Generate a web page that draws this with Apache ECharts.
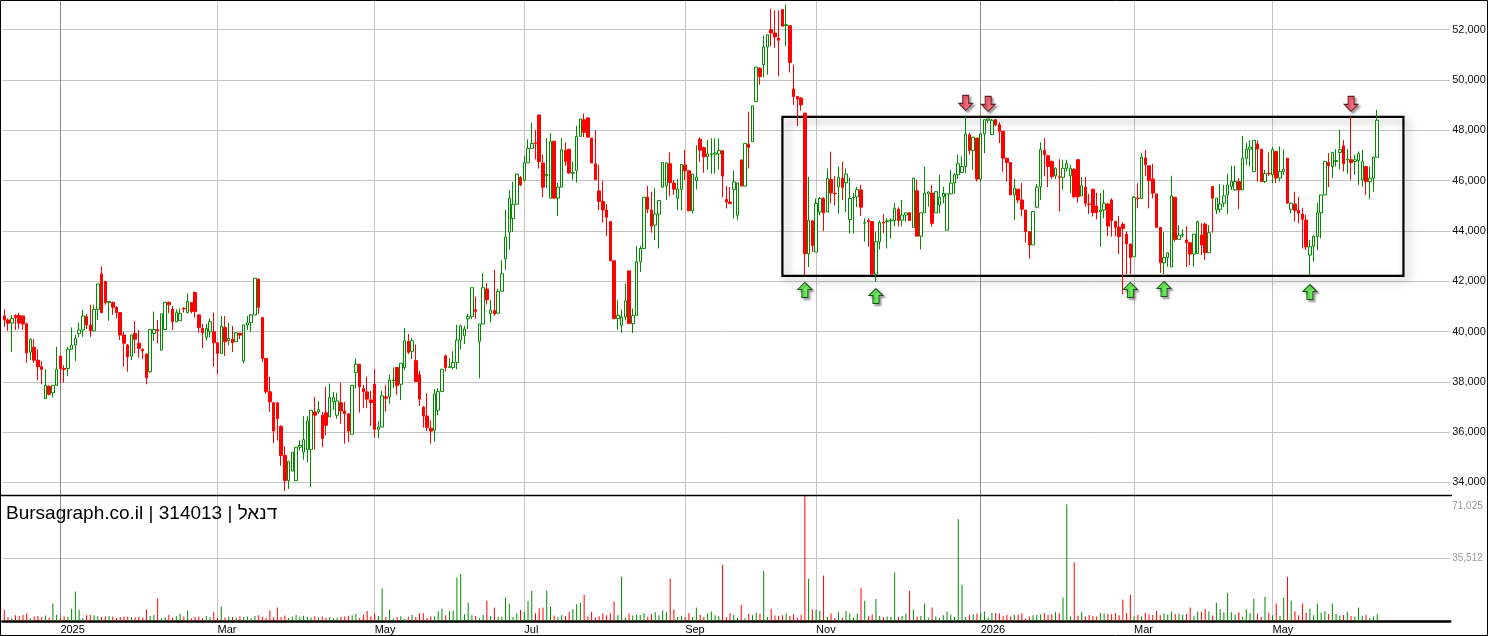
<!DOCTYPE html>
<html lang="en">
<head>
    <meta charset="UTF-8">
    <title>314013</title>
    <style>
        html, body { margin: 0; padding: 0; background: #fff; }
        #main { width: 1488px; height: 636px; }
    </style>
</head>
<body>
<div id="main"></div>
<script src="https://cdn.jsdelivr.net/npm/echarts@6.0.0/dist/echarts.min.js"></script>
<script>
    // daily candles: [open, high, low, close]
    var ohlc = [
        [40620,40880,40190,40460],[40460,40520,40030,40330],[40330,40660,39190,40520],[40640,40680,40060,40550],[40640,40750,40100,40330],
        [40620,40620,40060,40300],[40300,40350,38750,39150],[39180,39730,38860,39690],[39370,39690,38750,38860],[38860,39290,38060,38600],
        [38600,38820,37900,38490],[37330,38500,37330,37860],[37820,37860,37460,37500],[37560,37860,37370,37860],[37860,39390,37860,38500],
        [39020,39050,37960,38530],[38530,38660,37960,38490],[38530,39390,38220,39290],[39290,40160,39290,39460],[39460,39860,38830,39720],
        [39920,40350,39770,40060],[40060,40860,39790,40620],[40590,40700,40100,40260],[40260,41060,39790,40030],[40030,41060,40030,40880],
        [40880,41890,40460,41890],[42290,42590,40750,40750],[41990,41990,41060,41150],[41150,41190,40430,41190],[41150,41190,40660,40960],
        [40950,41010,40520,40750],[40750,40750,39660,39860],[39860,39990,38600,39530],[39460,39500,38400,38990],[39020,39860,38860,39860],
        [39920,40420,39130,39690],[39530,40060,38960,39330],[39290,39330,38900,39230],[39100,39130,37900,38160],[38400,40080,38360,40080],
        [39920,40790,39630,40080],[40080,40460,39530,40030],[39260,40700,39260,40700],[40080,41160,40080,41160],[41160,41190,40730,41060],
        [40880,41010,40060,40390],[40390,40880,40390,40750],[40430,40920,40430,40720],[40920,40960,40750,40900],[40750,41520,40750,41190],
        [41150,41150,40720,40790],[41550,41590,40550,40790],[40660,40700,39950,40150],[40120,40300,39330,39950],[39770,40300,39660,40120],
        [39990,40520,39770,40390],[39990,40750,38600,39550],[39550,39550,38300,39130],[39130,40620,39130,40220],[40160,40620,39020,39590],
        [39630,40350,39460,39730],[39690,40220,39190,39550],[39590,39950,39590,39950],[39930,39950,39690,39860],[38830,40260,38730,40260],
        [40260,40620,40060,40350],[40350,40700,39990,40660],[40660,42120,40660,42120],[42080,42120,40700,40960],[40550,40590,38790,38930],
        [38930,38930,37530,37600],[37600,38200,36800,37200],[37170,37200,35560,36040],[37160,37200,35670,36530],[36230,36270,34670,35070],
        [35070,35430,33650,34070],[34070,34840,33740,34840],[34450,35200,34450,35200],[34070,35400,34070,35400],[35400,35670,35270,35470],
        [35200,36630,34900,35700],[35300,36630,34800,36440],[35300,36870,33810,36870],[36800,37400,35300,36670],[36800,37240,36730,36890],
        [36670,36800,35400,35740],[36770,37800,35870,36270],[36600,37930,36600,37370],[37200,37600,36890,37370],[36670,37560,36530,37240],
        [37170,37960,36330,36840],[36840,37200,35540,36730],[36730,36730,35600,36040],[35910,37860,35910,37860],[38360,38930,37730,38700],
        [38700,38700,36770,37800],[37730,37880,36950,37610],[37600,38200,36950,37310],[37280,37640,36240,37170],[37900,38500,35780,36110],
        [36110,36440,35750,36200],[36200,37640,36200,37440],[37400,37880,36810,37350],[37400,38280,37130,38070],[38040,38570,37750,38070],
        [38570,38570,37480,37840],[37900,38740,37270,38740],[38570,40140,38460,39630],[39610,39900,39100,39170],[39210,39740,38900,39630],
        [38840,39480,38010,38010],[38280,38440,37040,37310],[36990,37040,36180,36640],[36640,37550,36040,36180],[36150,36470,35540,36040],
        [36070,37710,35620,37510],[36870,37740,36680,37610],[37610,38500,37610,38500],[39030,39080,38410,38570],[38570,38940,38570,38600],
        [38570,39210,38500,38770],[38770,40270,38500,39660],[39660,40270,39300,40230],[39830,40230,39500,40100],[40500,40700,40100,40590],
        [40590,41740,40500,41740],[40860,41390,40500,40800],[39610,40300,38140,40300],[40300,42320,40300,41740],[41690,41920,41070,41260],
        [40710,41260,40360,40860],[40830,42450,40630,40700],[40730,41700,40700,41600],[41600,42830,41600,42290],[42890,44840,42450,43760],
        [43950,45620,43250,45290],[44490,45950,43960,45060],[45060,46260,45060,46260],[46120,46180,45780,45820],[46020,46980,45990,46710],
        [46710,47640,46710,47280],[47280,48300,47280,47480],[47500,48010,46840,47480],[48610,48610,46480,46750],[46700,47030,45340,45740],
        [46200,47690,45700,46250],[45300,47890,45300,47560],[47560,47600,45300,45300],[45300,45900,44590,45740],[45740,47690,45740,47230],
        [47200,47520,46590,46760],[47250,47250,46270,46300],[46290,46760,46030,46320],[46400,48180,45920,47760],[47760,48450,47760,48450],
        [48420,48660,47730,47920],[48490,48530,47690,47730],[47690,47690,46700,46700],[46670,48000,46030,46030],[45590,46630,44830,45170],
        [45170,46000,44330,44830],[44830,45070,43800,44540],[44370,44370,42810,42810],[42810,42810,40510,40510],[40510,41240,40070,40640],
        [40240,40870,39940,40580],[40580,41910,40440,41220],[42410,42440,40310,40310],[40310,40910,39940,40640],[40640,43400,40640,42770],
        [42770,43400,42370,43300],[43300,45340,43300,45340],[45340,45790,44700,44860],[44830,45560,43930,44190],[44230,45700,43630,44670],
        [44670,45210,43300,45210],[45740,46720,45700,46720],[45790,46720,45230,46700],[46670,47120,45370,45920],[45900,46030,45430,45660],
        [45300,46060,44830,45660],[45650,46640,44820,46640],[46620,47220,46020,46390],[46390,46390,44800,44800],[44800,46260,44690,46260],
        [46000,47410,45650,46140],[47640,47720,46750,47210],[47310,47350,46310,46950],[46950,47610,46420,47060],[47050,47680,46280,47060],
        [47050,47680,46280,47100],[47060,47680,46440,47190],[47190,47190,45330,46180],[45250,45780,44890,45150],[45150,45750,45060,45090],
        [45650,46390,44490,45950],[44620,45910,44420,45910],[46820,46840,45780,45780],[45780,47480,45780,47480],[47450,48740,46480,47320],
        [47550,48970,47550,48970],[49140,50510,49140,50510],[50470,50510,49810,50140],[50610,51760,50110,51310],[51310,51800,50210,51800],
        [52000,52830,51340,51870],[51870,52770,51270,51710],[51670,52770,50140,51580],[52800,52800,52140,52140],[52160,53000,51340,52200],
        [52160,52160,50300,50700],[49640,50610,49010,49340],[49340,49340,48170,49240],[49280,49320,48780,49010],[48680,48700,42230,43090],
        [43090,46150,42560,44420],[44400,44420,43160,43420],[43160,45290,43160,45090],[44750,45350,44620,45290],[45290,45350,43990,44710],
        [44750,46480,44750,46090],[46040,47150,45090,45510],[45490,46180,45020,45480],[45750,46550,44690,46130],[46090,46750,45220,45730],
        [45910,46480,44750,46260],[44450,46120,43900,45290],[45310,45510,43890,45330],[45350,45750,44950,45640],[45630,45830,44590,44940],
        [44310,44500,43570,44330],[44410,44500,43370,44370],[44370,44370,42280,42280],[42280,43970,41970,43570],[43570,44410,43260,44330],
        [44340,44670,43920,44310],[44370,44500,43300,44400],[44400,44500,43700,44430],[44410,45100,44190,44900],[44860,44940,44170,44410],
        [44430,45230,44190,44630],[44630,44720,44370,44720],[44720,44720,44410,44410],[44140,46100,44140,46100],[45600,46030,43790,43790],
        [43790,44720,43260,44720],[44720,46560,44720,45500],[45470,45560,44960,45550],[45500,45830,44170,44300],[44720,45560,44720,45560],
        [45030,46230,44700,45340],[45360,45760,45100,45500],[44030,45470,44030,45470],[45470,46430,45470,45900],[45900,46300,45470,46230],
        [46230,47030,46060,46670],[46320,46960,46320,46560],[46560,48560,46300,47860],[47820,47890,47030,47200],[47200,47730,46430,47730],
        [47690,47690,45960,46060],[46060,47860,45960,47860],[47860,48420,47090,48420],[48400,48450,48300,48450],[47830,48450,47830,48400],
        [48420,48450,48160,48220],[48220,48320,47490,47960],[47960,47960,46360,46890],[46890,46890,45960,46720],[46720,46720,45430,45430],
        [45430,46060,44430,45700],[45660,45660,45100,45230],[45230,45900,44570,44860],[44830,44830,43530,43970],[43970,43970,42900,43440],
        [43440,44770,43440,44770],[44940,45870,44900,45740],[45760,47520,45230,47230],[47200,47690,46190,47030],[46990,47030,45740,46560],
        [46760,46800,46060,46160],[46190,46530,46060,46490],[46150,46850,44770,46130],[46130,46830,45630,46490],[46490,46830,46360,46670],
        [46190,46630,45500,46490],[46450,46490,45300,45360],[46830,46850,45120,45360],[45390,46140,45390,45790],[45740,46140,44960,45100],
        [45070,45470,44670,45050],[45660,45660,44570,44730],[44990,45520,44460,44730],[44770,45500,43370,44830],[44830,45630,44500,45100],
        [45070,45120,43790,44190],[45230,45300,43770,44410],[44370,44410,43790,44140],[44140,44590,43080,43770],[44270,44330,41480,44100],
        [43870,43970,42280,43480],[43480,43480,42280,42940],[42970,45390,42970,45340],[45300,45890,44900,45290],[45290,47090,45290,46930],
        [46900,47230,46190,46630],[46590,46590,44900,46000],[46060,46670,45300,45500],[45470,45470,44140,44140],[44140,44140,42330,42730],
        [42730,43970,42280,42940],[42940,43130,42570,43130],[42570,46190,42570,45390],[45340,45340,43570,43660],[43660,44230,43660,43830],
        [43830,44060,43740,43850],[43640,44190,42570,43530],[43530,43530,42640,43080],[43080,43870,42570,43870],[43100,44410,43100,44370],
        [43830,44300,43040,43440],[44270,44330,42840,43130],[43130,44230,43130,43930],[45760,45790,43930,45300],[44830,45300,44670,45300],
        [44860,45870,44730,45070],[45100,45830,44940,45390],[45430,46270,44670,45830],[45760,46590,45630,45960],[45630,46590,45600,45960],
        [45960,46100,44860,45630],[45630,47780,45630,46890],[46890,47490,46630,47250],[47250,47600,46560,47330],[46360,47600,46360,47600],
        [47460,47600,45960,47250],[47250,47250,45960,45960],[45960,46430,45900,46290],[46290,47120,46190,46270],[46230,47330,45900,47230],
        [47160,47160,45900,46100],[46100,47360,45960,46360],[46360,47230,46230,46450],[46890,46890,45100,45100],[44860,45120,44700,45100],
        [45070,45560,44370,44810],[44810,45360,44300,44700],[44670,44900,43300,44460],[44430,44630,43240,43370],[43040,43630,42240,43370],
        [43390,43830,42770,43790],[43770,45100,43240,44720],[44720,45430,43700,45430],[45430,46760,45430,46760],[46720,47090,45740,46590],
        [46560,47120,46100,47120],[46760,47250,46560,46800],[47120,48020,46450,47230],[47380,47620,46360,46670],[46830,47250,46270,46850],
        [46830,48530,46030,46720],[46760,47030,46230,46830],[46800,47160,45830,47070],[46030,47230,45760,46760],[46560,46560,45430,45960],
        [45960,46560,45260,46100],[46100,46960,45560,46930],[46930,48820,46930,48400]
    ];

    var volumes = [
        6300,2100,1500,3200,2800,3400,4200,1300,2600,2900,2200,3100,2000,9900,3600,1800,2600,2300,7000,16700,
        6500,1500,3300,3500,3300,2700,2300,2600,2900,2500,1700,2200,2600,2500,2300,2000,2400,1800,6500,2900,
        3400,12700,1500,2100,3600,1800,2700,4100,2500,5700,1500,2200,2600,1700,2900,2300,5300,1800,8200,2000,
        2600,2300,1900,2700,2300,2500,1600,2800,3200,2400,1700,6000,2100,7600,2300,3100,1700,2600,3400,2400,
        3000,2300,2000,2700,2100,2500,1900,2200,1600,1900,2400,2600,3000,3200,4100,1800,3600,5700,2500,4300,
        2900,18400,2300,6500,1400,2300,2700,1200,2500,3500,2200,4400,4400,1700,2600,2600,5500,7000,3300,5500,
        6000,24700,26800,3800,10500,3300,2900,1700,3400,11400,2700,7600,2600,2400,13300,9900,2200,4400,6300,5300,
        11400,17100,4400,7200,7600,17300,8000,3100,2300,3200,2900,5100,6600,9500,10300,14800,2500,5300,2000,2700,
        4400,3200,4400,11000,3300,25100,2000,4300,3100,3500,3400,4400,2400,4000,5000,3300,6000,4900,24100,6500,
        2200,3000,2100,4600,2300,7600,3500,2200,4400,5400,3200,2700,31900,2100,4600,3600,1900,9100,1600,4100,
        3300,4800,4100,28500,2300,7000,3100,2900,3300,4300,2800,3800,2000,3500,71000,23900,6500,6500,5700,25700,
        2200,4200,1700,5000,2000,5700,4200,2000,4200,18800,11400,2500,3700,12500,2800,2300,2500,2300,27400,2200,
        2900,4300,17100,6500,2500,2900,9900,2000,7600,2500,1800,3300,5200,3600,2300,57600,20500,2300,3600,3800,
        4300,4400,5400,2000,4500,4500,4300,2900,3500,2600,3400,3700,4400,1300,2600,3200,3400,3700,4500,3400,
        3800,4900,4400,13300,66100,2700,33300,3100,5100,2600,3400,2800,2500,4600,4200,4300,3800,4600,3300,12200,
        4600,14800,2600,3600,2600,4500,3800,3400,5600,3200,4300,3700,5200,3900,4100,3600,3900,7600,2700,5400,
        5200,7000,5400,3100,10300,6800,4900,16000,4900,3500,5000,2400,6600,4600,12700,4200,2200,13700,4700,3200,
        9900,2900,13300,25100,11400,5500,3200,9900,4700,6900,3300,9900,4700,5600,4000,9900,3900,3000,3400,5300,
        2800,2600,7600,3000,3600,1800,2500,3800
    ];

    var slotCount = 387;                       // trading-day slots on the axis (incl. empty space on the right)
    var monthIdx = [15, 57, 99, 139, 182, 217, 261, 302, 339];
    var monthNames = ['2025', 'Mar', 'May', 'Jul', 'Sep', 'Nov', '2026', 'Mar', 'May'];
    var priceTicks = [34000, 36000, 38000, 40000, 42000, 44000, 46000, 48000, 50000, 52000];
    var priceMin = 33498, priceMax = 53181;    // panel edges
    var volMax = 71025;

    // annotations: [slot, price]
    var upArrows = [[214, 41650], [233, 41410], [301, 41650], [310, 41690], [349, 41570]];
    var downArrows = [[257, 49090], [263, 49050], [360, 49050]];
    var boxCorners = [[208, 48530], [374, 42215]];

    var cats = [];
    for (var i = 0; i < slotCount; i++) cats.push(String(i));

    var candleData = ohlc.map(function (c) { return [c[0], c[3], c[2], c[1]]; });

    var monthColor = monthNames.map(function (m) { return /^\d{4}$/.test(m) ? '#8c8c8c' : '#c8c4c0'; });
    function isMonth(idx) { return monthIdx.indexOf(idx) >= 0; }

    var upPath = 'path://M7,0 L14,7 L10,7 L10,15 L4,15 L4,7 L0,7 Z';
    var downPath = 'path://M4,0 L10,0 L10,8 L14,8 L7,15 L0,8 L4,8 Z';

    var myChart = echarts.init(document.getElementById('main'), null, {renderer: 'canvas'});
    var font = 'Arial, "Liberation Sans", sans-serif';

    var option = {
        animation: false,
        backgroundColor: '#ffffff',
        title: {
            text: 'Bursagraph.co.il | 314013 | דנאל',
            left: 1,
            top: 499,
            textStyle: { color: '#000', fontSize: 19, fontWeight: 'normal', fontFamily: font }
        },
        graphic: [
            { type: 'rect', shape: { x: 0.5, y: 0.5, width: 1487, height: 635 }, style: { fill: null, stroke: '#000', lineWidth: 1 }, z: 100 },
            { type: 'line', shape: { x1: 0, y1: 495.5, x2: 1452, y2: 495.5 }, style: { stroke: '#000', lineWidth: 1.5 }, z: 100 }
        ],
        grid: [
            { left: 2.4, right: 37.8, top: 0, height: 495, outerBoundsMode: 'none' },
            { left: 2.4, right: 37.8, top: 495.6, height: 125.4, outerBoundsMode: 'none' }
        ],
        xAxis: [
            {
                type: 'category', gridIndex: 0, data: cats, boundaryGap: true,
                axisLine: { show: false }, axisTick: { show: false }, axisLabel: { show: false },
                splitLine: {
                    show: true, alignWithLabel: true,
                    interval: function (idx) { return isMonth(idx); },
                    lineStyle: { color: monthColor, width: 1 }
                }
            },
            {
                type: 'category', gridIndex: 1, data: cats, boundaryGap: true,
                axisLine: { show: true, lineStyle: { color: '#000', width: 2.5 } },
                axisTick: { show: false },
                axisLabel: {
                    show: true,
                    interval: function (idx) { return isMonth(idx); },
                    formatter: function (v, idx) { var k = monthIdx.indexOf(Number(v)); return k >= 0 ? monthNames[k] : ''; },
                    align: 'left', margin: 3, color: '#000', fontSize: 11, fontFamily: font
                },
                splitLine: {
                    show: true, alignWithLabel: true,
                    interval: function (idx) { return isMonth(idx); },
                    lineStyle: { color: monthColor, width: 1 }
                }
            }
        ],
        yAxis: [
            {
                type: 'value', gridIndex: 0, position: 'right',
                min: priceMin, max: priceMax,
                axisLine: { show: false },
                axisTick: { show: false, customValues: priceTicks },
                axisLabel: { margin: 2, color: '#111', fontSize: 11, fontFamily: font, customValues: priceTicks },
                splitLine: { show: true, customValues: priceTicks, lineStyle: { color: '#c4c4c4', width: 1 } }
            },
            {
                type: 'value', gridIndex: 1, position: 'right',
                min: 0, max: volMax, interval: volMax / 2,
                axisLine: { show: false }, axisTick: { show: false },
                axisLabel: {
                    margin: 2, color: '#9a9a9a', fontSize: 10, fontFamily: font,
                    formatter: function (v) {
                        if (v === 0) return '';
                        var s = Math.floor(v).toLocaleString('en-US');
                        return v === volMax ? '{top|' + s + '}' : s;
                    },
                    rich: { top: { padding: [22, 0, 0, 0], color: '#9a9a9a', fontSize: 10, fontFamily: font } }
                },
                splitLine: { show: true, lineStyle: { color: '#c4c4c4', width: 1 } }
            }
        ],
        series: [
            {
                name: '314013',
                type: 'candlestick',
                xAxisIndex: 0, yAxisIndex: 0,
                data: candleData,
                barWidth: 3,
                clip: false,
                itemStyle: {
                    color: '#ffffff', borderColor: '#008a00',
                    color0: '#ff0000', borderColor0: '#ff0000',
                    borderWidth: 1
                },
                markArea: {
                    silent: true,
                    itemStyle: {
                        color: 'rgba(0,0,0,0)', borderColor: '#000', borderWidth: 2.2,
                        shadowColor: 'rgba(0,0,0,0.35)', shadowBlur: 9, shadowOffsetX: 4, shadowOffsetY: 4
                    },
                    data: [[{ coord: [String(boxCorners[0][0]), boxCorners[0][1]] }, { coord: [String(boxCorners[1][0]), boxCorners[1][1]] }]]
                },
                markPoint: {
                    silent: true,
                    label: { show: false },
                    data: upArrows.map(function (a) {
                        return {
                            coord: [String(a[0]), a[1]], symbol: upPath, symbolSize: [14, 15],
                            itemStyle: { color: '#6cf25a', borderColor: '#1f4f1a', borderWidth: 1,
                                shadowColor: 'rgba(0,0,0,0.35)', shadowBlur: 2, shadowOffsetX: 2, shadowOffsetY: 2 }
                        };
                    }).concat(downArrows.map(function (a) {
                        return {
                            coord: [String(a[0]), a[1]], symbol: downPath, symbolSize: [14, 15],
                            itemStyle: { color: '#ff6a7a', borderColor: '#5a1f22', borderWidth: 1,
                                shadowColor: 'rgba(0,0,0,0.35)', shadowBlur: 2, shadowOffsetX: 2, shadowOffsetY: 2 }
                        };
                    }))
                }
            },
            {
                name: 'volume',
                type: 'bar',
                xAxisIndex: 1, yAxisIndex: 1,
                data: volumes,
                barWidth: 1,
                itemStyle: {
                    color: function (p) {
                        var c = ohlc[p.dataIndex];
                        return c[3] >= c[0] ? '#008a00' : '#ff0000';
                    }
                }
            }
        ]
    };

    myChart.setOption(option);
</script>
</body>
</html>
